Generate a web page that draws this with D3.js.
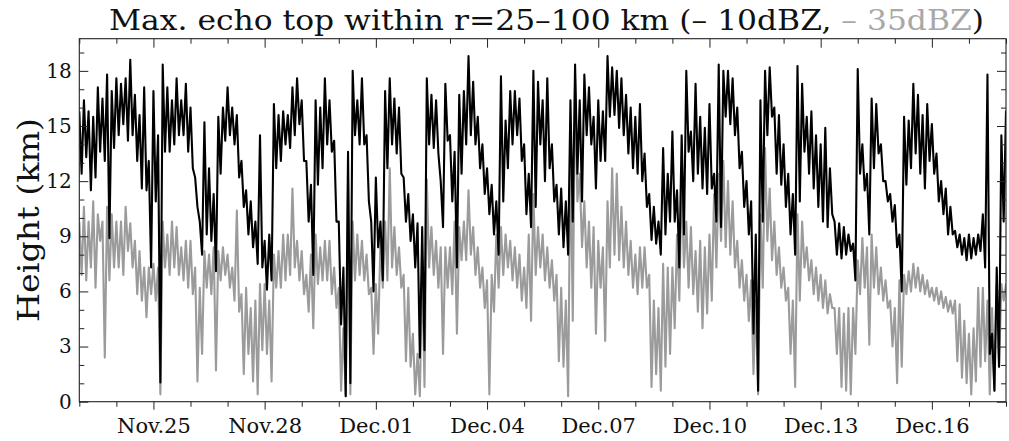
<!DOCTYPE html>
<html>
<head>
<meta charset="utf-8">
<script src="https://cdn.jsdelivr.net/npm/d3@7"></script>
<style>
  body { margin: 0; background: #fff; }
  svg { display: block; }
  text { font-family: "DejaVu Serif", serif; fill: #111; }
</style>
</head>
<body>
<svg id="chart" width="1009" height="441"></svg>
<script>
// samples every 3 h from Nov.23 00:00 to Dec.18 00:00, upper / lower edge of the trace
const stepHours = 3;

const echo10Hi = [
  15.8, 16.4, 15.8, 15.5, 17.1, 16.5, 17.8, 16.9,
  17.6, 17.3, 17.6, 18.6, 16.7, 15.6, 17.1, 13.1,
  16.9, 14.5, 18.35, 17.1, 16.4, 17.6, 16.4, 17.3,
  16.0, 12.2, 9.8, 15.2, 12.7, 11.3, 15.5, 16.0,
  17.1, 16.0, 15.6, 13.1, 11.5, 10.9, 9.8, 14.5,
  8.75, 9.1, 16.2, 15.6, 15.8, 15.6, 17.1, 17.6,
  16.4, 13.1, 11.8, 16.4, 16.0, 17.6, 16.4, 14.2,
  9.8, 7.3, 13.6, 18.0, 16.4, 17.6, 14.5, 9.8,
  12.2, 9.8, 16.9, 17.6, 16.5, 16.0, 12.2, 11.3,
  10.2, 9.7, 9.5, 17.6, 16.7, 16.4, 12.0, 17.3,
  14.5, 13.6, 16.7, 16.9, 18.8, 17.4, 15.5, 14.0,
  12.7, 11.8, 10.9, 17.7, 15.3, 16.9, 16.9, 16.5,
  14.0, 12.4, 18.0, 17.4, 16.4, 17.6, 14.0, 11.8,
  11.6, 10.9, 16.4, 18.35, 16.4, 17.8, 17.1, 15.5,
  16.4, 15.8, 18.8, 18.2, 18.0, 17.6, 16.7, 16.0,
  15.5, 16.2, 13.5, 11.3, 10.6, 9.8, 13.8, 12.4,
  14.7, 11.5, 14.5, 18.0, 14.7, 17.3, 15.5, 14.9,
  16.2, 12.4, 18.35, 18.0, 18.0, 17.6, 16.0, 13.6,
  12.0, 10.9, 9.1, 16.4, 18.0, 18.2, 16.0, 15.6,
  14.0, 12.4, 11.3, 18.26, 17.3, 15.5, 15.8, 14.5,
  14.0, 14.9, 12.7, 9.8, 9.7, 9.5, 9.1, 8.6,
  18.1, 14.0, 12.4, 16.5, 16.2, 14.0, 12.0, 11.3,
  10.7, 9.1, 15.5, 15.3, 17.3, 16.7, 15.6, 16.2,
  15.1, 13.5, 12.0, 11.6, 10.6, 9.3, 9.1, 8.9,
  9.1, 8.9, 9.1, 10.2, 17.8, 3.7, 7.3, 14.5,
  15.8
];

const echo10Lo = [
  12.4, 13.3, 11.5, 12.2, 13.6, 13.1, 8.9, 13.8,
  14.5, 15.1, 14.2, 14.5, 13.1, 11.6, 11.5, 7.3,
  10.9, 1.05, 13.6, 13.6, 14.0, 14.5, 14.5, 13.6,
  12.7, 10.6, 8.0, 9.1, 8.75, 7.1, 12.4, 14.2,
  14.5, 14.0, 12.2, 10.6, 9.1, 8.4, 7.5, 7.3,
  6.1, 6.6, 12.7, 13.1, 14.0, 13.8, 14.5, 15.1,
  13.1, 9.8, 6.9, 11.8, 12.7, 14.0, 13.6, 9.8,
  4.2, 0.3, 1.0, 14.5, 14.0, 14.0, 10.9, 6.0,
  8.4, 6.6, 12.7, 14.0, 13.5, 12.4, 9.8, 8.75,
  7.3, 2.4, 2.8, 14.0, 13.8, 13.5, 9.5, 14.2,
  10.9, 7.3, 12.4, 14.0, 14.5, 14.0, 12.7, 11.3,
  10.2, 9.1, 8.0, 10.9, 12.7, 14.0, 14.5, 13.1,
  10.2, 9.5, 10.6, 14.0, 12.0, 12.7, 10.9, 9.1,
  8.4, 8.0, 9.8, 12.4, 10.9, 14.5, 14.0, 11.6,
  13.1, 13.1, 15.5, 15.6, 14.9, 14.5, 13.5, 12.7,
  12.4, 12.0, 10.6, 8.8, 8.6, 8.0, 9.1, 9.8,
  9.8, 7.3, 9.1, 13.6, 12.0, 12.4, 11.6, 11.3,
  11.6, 9.8, 9.5, 15.5, 15.1, 14.5, 12.7, 10.6,
  9.1, 3.7, 0.6, 9.8, 14.5, 15.5, 12.4, 11.8,
  10.6, 9.1, 8.0, 10.9, 13.6, 12.4, 11.6, 10.6,
  9.8, 9.5, 10.2, 8.0, 7.8, 8.0, 8.2, 6.6,
  12.4, 11.5, 9.1, 12.7, 13.5, 12.0, 10.9, 9.8,
  8.4, 6.0, 11.8, 12.7, 13.5, 12.4, 11.6, 13.1,
  12.4, 10.9, 10.2, 9.1, 9.1, 8.4, 8.0, 7.7,
  7.8, 8.0, 8.2, 7.3, 2.6, 0.6, 1.9, 9.8,
  14.0
];

const echo35Hi = [
  9.8, 10.6, 9.8, 10.9, 10.2, 9.8, 10.6, 10.2,
  9.8, 9.8, 10.6, 9.7, 8.75, 8.2, 7.3, 7.3,
  7.5, 7.3, 9.8, 9.1, 9.8, 9.5, 8.4, 8.75,
  8.75, 7.3, 6.2, 8.2, 8.0, 8.4, 8.2, 8.4,
  8.0, 7.3, 10.4, 5.85, 6.2, 5.1, 5.5, 6.4,
  6.4, 5.5, 8.0, 8.2, 9.1, 9.1, 11.6, 8.75,
  8.2, 6.9, 8.0, 9.1, 8.4, 8.75, 8.75, 7.3,
  6.2, 4.0, 12.0, 9.8, 9.1, 8.75, 8.0, 6.2,
  6.4, 8.75, 9.8, 12.7, 9.5, 8.4, 6.9, 6.2,
  3.7, 2.6, 7.3, 12.1, 9.5, 8.75, 8.4, 8.4,
  8.4, 9.8, 9.5, 9.8, 11.5, 9.5, 8.4, 7.3,
  6.6, 6.9, 9.1, 9.5, 9.1, 8.75, 8.4, 8.0,
  7.3, 9.1, 11.3, 9.5, 9.1, 8.4, 7.7, 6.9,
  6.2, 5.5, 13.8, 17.6, 12.4, 10.9, 9.8, 9.5,
  8.75, 8.4, 10.9, 12.7, 12.4, 10.6, 9.8, 8.75,
  8.0, 8.4, 8.4, 6.9, 5.5, 5.1, 7.5, 7.3,
  7.3, 9.1, 12.0, 9.8, 9.5, 8.2, 8.75, 8.4,
  9.1, 11.3, 12.4, 13.1, 12.0, 10.9, 8.75, 7.7,
  6.9, 6.6, 5.5, 10.2, 13.8, 11.6, 9.8, 8.4,
  7.3, 6.2, 5.5, 10.2, 9.8, 8.4, 7.7, 7.3,
  6.9, 6.6, 5.85, 5.1, 5.1, 4.8, 5.1, 5.1,
  7.7, 8.9, 8.4, 9.1, 8.4, 7.3, 6.6, 5.5,
  5.1, 6.6, 6.9, 7.1, 7.5, 7.3, 6.9, 6.6,
  6.2, 6.2, 6.0, 5.7, 5.5, 5.5, 5.3, 4.4,
  3.7, 4.0, 6.2, 6.2, 5.5, 5.1, 6.4, 6.4,
  6.4
];

const echo35Lo = [
  6.9, 6.6, 7.3, 6.2, 8.75, 2.4, 6.6, 7.3,
  7.3, 6.9, 8.2, 7.3, 5.85, 5.5, 4.6, 5.85,
  5.5, 0.4, 7.3, 6.9, 7.3, 6.9, 6.6, 6.2,
  5.85, 1.1, 2.6, 6.2, 5.85, 1.7, 6.6, 6.9,
  6.2, 5.5, 4.9, 1.5, 2.6, 1.1, 0.4, 2.8,
  2.6, 1.1, 6.2, 6.2, 6.6, 6.9, 7.3, 6.6,
  5.85, 4.9, 4.0, 6.4, 6.6, 6.6, 5.85, 5.1,
  0.6, 0.3, 0.4, 6.6, 6.9, 6.6, 5.85, 2.6,
  3.7, 6.2, 6.6, 7.3, 6.9, 6.2, 2.2, 1.9,
  0.4, 0.3, 0.8, 7.3, 6.9, 6.2, 2.6, 6.2,
  5.85, 3.7, 7.7, 7.7, 8.0, 6.9, 6.2, 5.1,
  0.4, 4.9, 6.2, 6.9, 7.3, 6.6, 6.2, 5.5,
  5.1, 4.4, 6.9, 7.3, 6.6, 6.2, 5.5, 2.2,
  1.9, 0.3, 4.4, 10.9, 8.4, 7.3, 6.2, 3.7,
  6.2, 3.3, 7.3, 8.0, 7.7, 7.3, 6.9, 6.2,
  5.85, 6.2, 6.2, 0.8, 1.5, 0.6, 1.9, 2.6,
  4.0, 5.5, 7.3, 6.2, 5.85, 4.9, 4.0, 4.8,
  5.5, 7.3, 8.75, 8.4, 8.0, 7.3, 6.2, 5.5,
  4.4, 1.5, 0.4, 6.2, 8.75, 7.7, 6.9, 6.2,
  5.5, 2.6, 0.8, 5.5, 7.3, 6.6, 5.85, 5.5,
  5.1, 4.8, 5.1, 2.6, 0.8, 0.6, 0.4, 2.6,
  5.85, 6.2, 3.1, 6.2, 5.85, 5.5, 5.1, 3.0,
  1.0, 1.9, 5.85, 6.0, 6.2, 6.0, 5.85, 5.7,
  5.5, 5.3, 5.1, 4.9, 4.8, 2.2, 1.3, 1.0,
  0.4, 1.1, 1.9, 2.2, 0.4, 0.6, 1.9, 5.5,
  5.7
];

const tickDates = ['2000-11-25', '2000-11-28', '2000-12-01', '2000-12-04',
                   '2000-12-07', '2000-12-10', '2000-12-13', '2000-12-16'];
const tickLabels = ['Nov.25', 'Nov.28', 'Dec.01', 'Dec.04',
                    'Dec.07', 'Dec.10', 'Dec.13', 'Dec.16'];
const yTicks = [0, 3, 6, 9, 12, 15, 18];

const svg = d3.select('#chart');
const plot = { left: 79.3, right: 1006, top: 38.7, bottom: 401.7 };
const hour = 3600e3;
const t0 = Date.UTC(2000, 10, 23);
const t1 = Date.UTC(2000, 11, 18);

const x = d3.scaleUtc().domain([t0, t1]).range([plot.left, plot.right]);
const y = d3.scaleLinear().domain([0, 19.75]).range([plot.bottom, plot.top]);

// alternate upper and lower edge so the line fills the band like the raw trace
function trace(hi, lo) {
  const pts = [];
  hi.forEach((v, i) => {
    const t = t0 + i * stepHours * hour;
    pts.push([t, v]);
    pts.push([t + stepHours * hour / 2, lo[i]]);
  });
  return pts;
}

svg.append('clipPath').attr('id', 'clip')
   .append('rect')
   .attr('x', plot.left).attr('y', plot.top)
   .attr('width', plot.right - plot.left).attr('height', plot.bottom - plot.top);

const line = d3.line().x(d => x(d[0])).y(d => y(d[1]));
const lines = svg.append('g').attr('clip-path', 'url(#clip)');

lines.append('path')
     .attr('d', line(trace(echo35Hi, echo35Lo)))
     .attr('fill', 'none')
     .attr('stroke', '#9b9b9b')
     .attr('stroke-width', 2.1)
     .attr('stroke-linejoin', 'round');

lines.append('path')
     .attr('d', line(trace(echo10Hi, echo10Lo)))
     .attr('fill', 'none')
     .attr('stroke', '#000')
     .attr('stroke-width', 2.1)
     .attr('stroke-linejoin', 'round');

// ticks
const majorX = tickDates.map(s => new Date(s + 'T00:00:00Z'));
const minorX = d3.utcDay.range(new Date(t0), new Date(t1 + 1))
                 .filter(d => !majorX.some(m => +m === +d));
const minorY = d3.range(0, 20).filter(v => v % 3 !== 0);

function axisGroup(axis, tx, ty) {
  const g = svg.append('g').attr('transform', `translate(${tx},${ty})`).call(axis);
  g.select('.domain').remove();
  g.selectAll('line').attr('stroke', '#222');
  return g;
}

const xLabels = axisGroup(d3.axisBottom(x).tickValues(majorX).tickSize(8).tickPadding(8)
                  .tickFormat((d, i) => tickLabels[i]), 0, plot.bottom);
xLabels.selectAll('text').attr('font-family', '"DejaVu Serif", serif')
       .attr('font-size', 21).attr('fill', '#111');
axisGroup(d3.axisBottom(x).tickValues(minorX).tickSize(5).tickFormat(''), 0, plot.bottom);
axisGroup(d3.axisTop(x).tickValues(majorX).tickSize(-9).tickFormat(''), 0, plot.top);
axisGroup(d3.axisTop(x).tickValues(minorX).tickSize(-5).tickFormat(''), 0, plot.top);

const yLabels = axisGroup(d3.axisLeft(y).tickValues(yTicks).tickSize(-9).tickPadding(7.6), plot.left, 0);
yLabels.selectAll('text').attr('font-family', '"DejaVu Serif Condensed", "DejaVu Serif", serif')
       .attr('font-size', 20).attr('fill', '#111');
axisGroup(d3.axisLeft(y).tickValues(minorY).tickSize(-5).tickFormat(''), plot.left, 0);
axisGroup(d3.axisRight(y).tickValues(yTicks).tickSize(-9).tickFormat(''), plot.right, 0);
axisGroup(d3.axisRight(y).tickValues(minorY).tickSize(-5).tickFormat(''), plot.right, 0);

svg.append('rect')
   .attr('x', plot.left).attr('y', plot.top)
   .attr('width', plot.right - plot.left).attr('height', plot.bottom - plot.top)
   .attr('fill', 'none').attr('stroke', '#222').attr('stroke-width', 1.1);

// title
const title = svg.append('text')
   .attr('x', 109).attr('y', 30)
   .attr('font-size', 27)
   .attr('textLength', 875).attr('lengthAdjust', 'spacingAndGlyphs');
title.append('tspan').text('Max. echo top within r=25\u2013100 km (\u2013 10dBZ, ');
title.append('tspan').attr('fill', '#a8a8a8').text('\u2013 35dBZ');
title.append('tspan').text(')');

svg.append('text')
   .attr('transform', 'translate(39,220) rotate(-90)')
   .attr('text-anchor', 'middle')
   .attr('font-size', 29)
   .attr('textLength', 204).attr('lengthAdjust', 'spacingAndGlyphs')
   .text('Height (km)');
</script>
</body>
</html>
